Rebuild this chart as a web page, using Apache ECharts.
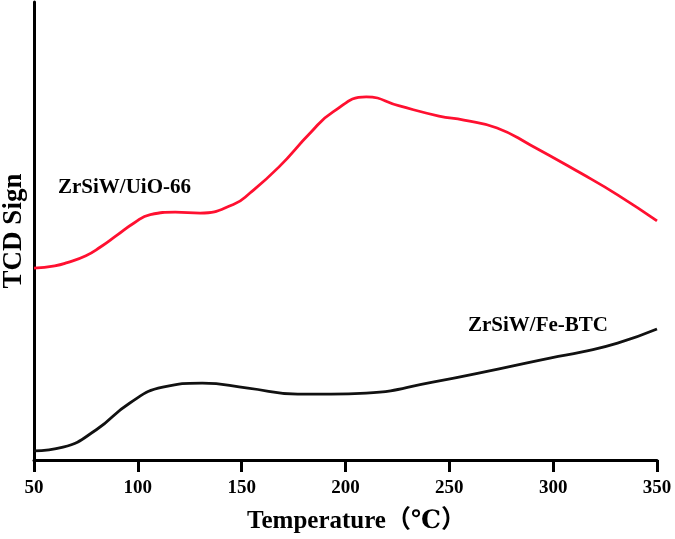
<!DOCTYPE html>
<html>
<head>
<meta charset="utf-8">
<script src="https://cdn.jsdelivr.net/npm/echarts@6/dist/echarts.min.js"></script>
<style>html,body{margin:0;padding:0;background:#fff}#c{width:675px;height:539px}</style>
</head>
<body>
<div id="c"></div>
<script>
var xTicks = [50, 100, 150, 200, 250, 300, 350];
var uioT = [50, 60, 66, 75, 82, 90, 98, 106, 118, 130, 146, 154, 168, 183, 194, 210, 226, 245, 257, 273, 289, 313, 331, 350];
var uioV = [41.9, 42.4, 43.1, 44.6, 46.5, 49.1, 51.7, 53.6, 54.1, 53.9, 55.8, 58.3, 64.0, 71.4, 76.0, 79.3, 77.3, 75.1, 74.2, 72.5, 68.8, 62.7, 57.9, 52.2];
var feT = [50, 64, 80, 96, 112, 131, 153, 177, 193, 210, 242, 274, 299, 314, 331, 350];
var feV = [2.0, 2.8, 6.6, 12.4, 15.9, 16.8, 15.7, 14.4, 14.4, 14.6, 17.0, 19.9, 22.3, 23.6, 25.5, 28.6];
var seriesNames = ['ZrSiW/UiO-66', 'ZrSiW/Fe-BTC'];

function pairs(xs, ys) { return xs.map(function (x, i) { return [x, ys[i]]; }); }

var serif = '"Times New Roman", "Liberation Serif", "DejaVu Serif", "Noto Sans CJK SC", serif';
var chart = echarts.init(document.getElementById('c'), null, {renderer: 'canvas'});
chart.setOption({
  animation: false,
  grid: {left: 34, right: 18, top: 2, bottom: 79, containLabel: false, outerBoundsMode: 'none'},
  xAxis: {
    type: 'value', min: 50, max: 350, interval: 50,
    name: 'Temperature（℃）', nameLocation: 'middle', nameGap: 49,
    nameTextStyle: {fontFamily: serif, fontWeight: 'bold', fontSize: 25, color: '#000', padding: [0, 0, 0, 22]},
    axisLine: {lineStyle: {color: '#000', width: 3}},
    axisTick: {show: true, inside: false, length: 12, lineStyle: {color: '#000', width: 3}},
    axisLabel: {margin: 19, fontFamily: serif, fontWeight: 'bold', fontSize: 19, color: '#000'},
    splitLine: {show: false}
  },
  yAxis: {
    type: 'value', min: 0, max: 100,
    name: 'TCD Sign', nameLocation: 'middle', nameGap: 6,
    nameTextStyle: {fontFamily: serif, fontWeight: 'bold', fontSize: 27, color: '#000'},
    axisLine: {show: true, lineStyle: {color: '#000', width: 3}},
    axisTick: {show: false},
    axisLabel: {show: false},
    splitLine: {show: false}
  },
  series: [
    {name: seriesNames[0], type: 'line', smooth: 0.5, symbol: 'none', data: pairs(uioT, uioV),
     lineStyle: {color: '#ff1030', width: 2.8}},
    {name: seriesNames[1], type: 'line', smooth: 0.5, symbol: 'none', data: pairs(feT, feV),
     lineStyle: {color: '#111', width: 2.8}}
  ],
  graphic: [
    {type: 'text', left: 58, top: 177, style: {text: seriesNames[0], font: 'bold 21px ' + serif, fill: '#000'}},
    {type: 'text', left: 468, top: 315, style: {text: seriesNames[1], font: 'bold 21px ' + serif, fill: '#000'}}
  ]
});
</script>
</body>
</html>
